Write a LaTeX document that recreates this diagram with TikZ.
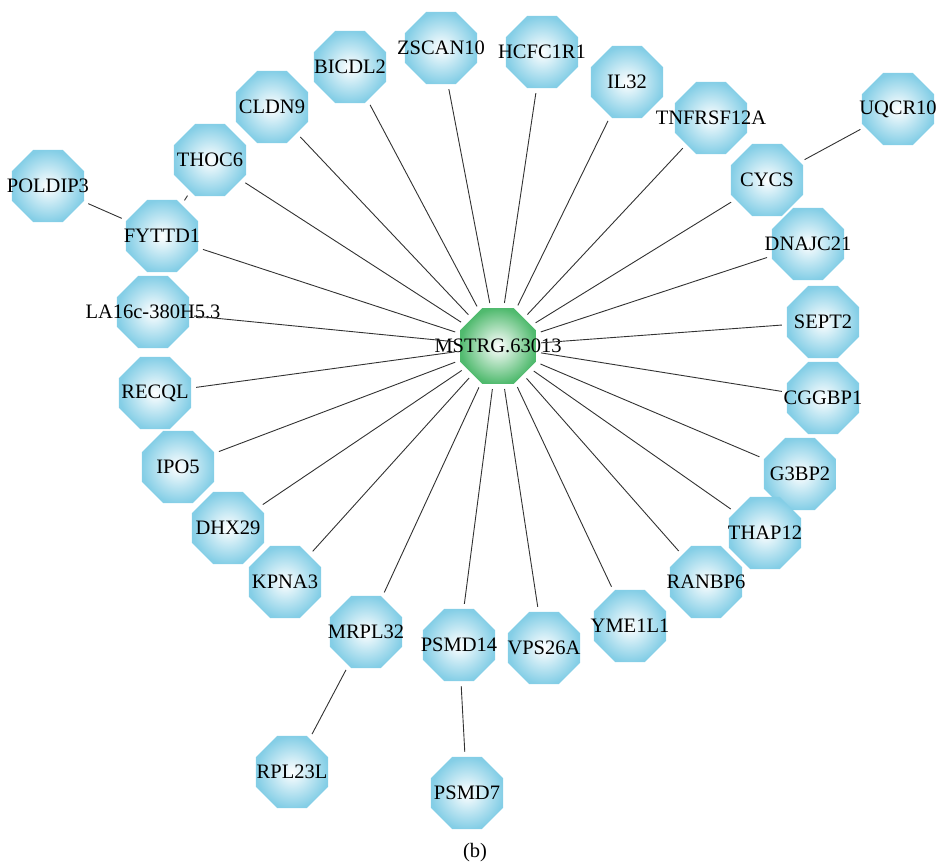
\documentclass[tikz,border=0pt]{standalone}
\usepackage{fontspec}
\setmainfont{Liberation Serif}
\usetikzlibrary{shapes.geometric}
\definecolor{octblue}{RGB}{132,206,230}
\definecolor{octgreen}{RGB}{80,186,110}
\definecolor{edgegray}{RGB}{50,50,50}
\tikzset{
  oct/.style={regular polygon, regular polygon sides=8,
    minimum size=78pt, inner sep=0pt, draw=none, shading=radial,
    inner color=white, outer color=octblue,
    label={[font=\fontsize{20.5}{20.5}\selectfont, text=black]center:#1}},
  hub/.style={oct=#1, outer color=octgreen, minimum size=82pt},
  link/.style={draw=edgegray, line width=0.9pt, shorten >=5pt, shorten <=5pt}
}
\begin{document}
\begin{tikzpicture}[x=1pt,y=-1pt]
\useasboundingbox (0,0) rectangle (945,865);
\node[hub=MSTRG.63013] (c) at (498,346) {};
\node[oct=ZSCAN10] (zscan) at (441,48) {};
\node[oct=HCFC1R1] (hcfc) at (542,52) {};
\node[oct=IL32] (il32) at (627,82) {};
\node[oct=BICDL2] (bicdl) at (350,67) {};
\node[oct=CLDN9] (cldn) at (272,107) {};
\node[oct=TNFRSF12A] (tnf) at (711,118) {};
\node[oct=UQCR10] (uqcr) at (898,109) {};
\node[oct=CYCS] (cycs) at (767,180) {};
\node[oct=THOC6] (thoc) at (210,160) {};
\node[oct=POLDIP3] (pold) at (48,186) {};
\node[oct=FYTTD1] (fyt) at (162,236) {};
\node[oct=DNAJC21] (dnaj) at (808,244) {};
\node[oct=LA16c-380H5.3] (la16) at (153,312) {};
\node[oct=SEPT2] (sept) at (823,322) {};
\node[oct=RECQL] (recql) at (155,393) {};
\node[oct=CGGBP1] (cgg) at (823,398) {};
\node[oct=IPO5] (ipo) at (178,467) {};
\node[oct=G3BP2] (g3bp) at (800,474) {};
\node[oct=DHX29] (dhx) at (228,528) {};
\node[oct=THAP12] (thap) at (765,533) {};
\node[oct=KPNA3] (kpna) at (285,582) {};
\node[oct=RANBP6] (ranbp) at (706,582) {};
\node[oct=MRPL32] (mrpl) at (366,632) {};
\node[oct=PSMD14] (psmd14) at (459,645) {};
\node[oct=VPS26A] (vps) at (544,648) {};
\node[oct=YME1L1] (yme) at (630,626) {};
\node[oct=RPL23L] (rpl) at (292,772) {};
\node[oct=PSMD7] (psmd7) at (467,793) {};
\node[font=\fontsize{20.5}{20.5}\selectfont] (cap) at (475,853) {(b)};
\foreach \n in {zscan,hcfc,il32,bicdl,cldn,tnf,cycs,thoc,fyt,dnaj,la16,sept,recql,cgg,ipo,g3bp,dhx,thap,kpna,ranbp,mrpl,psmd14,vps,yme}
  \draw[link] (c) -- (\n);
\draw[link] (pold) -- (fyt);
\draw[link] (thoc) -- (fyt);
\draw[link] (uqcr) -- (cycs);
\draw[link] (mrpl) -- (rpl);
\draw[link] (psmd14) -- (psmd7);
\end{tikzpicture}
\end{document}
